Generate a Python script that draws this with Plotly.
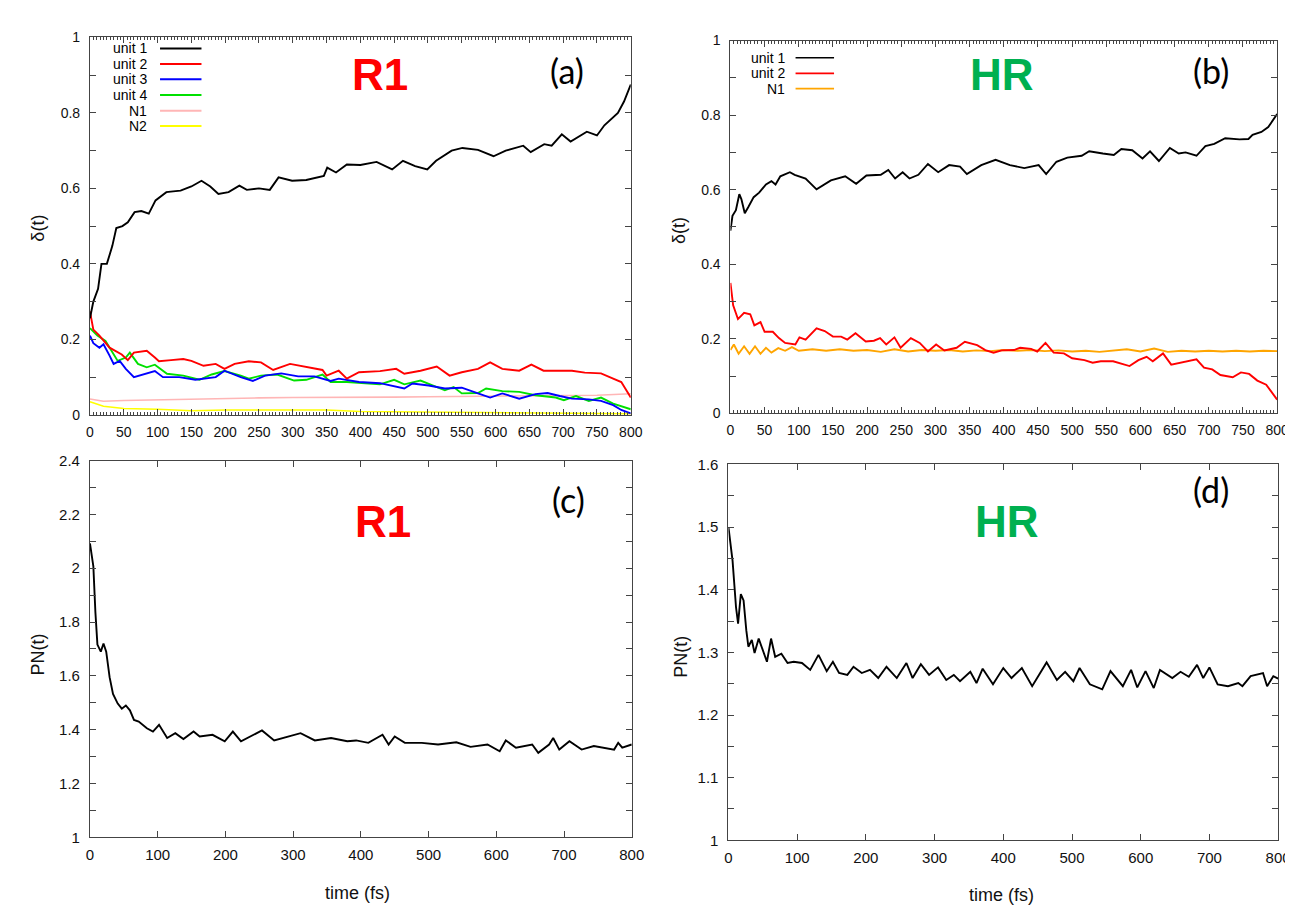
import plotly.graph_objects as go

W, H = 1293, 907

# ---------------- data ----------------
# panel (a)  R1 : delta(t)
t_a_u1 = [0,5,12,17,25,33,39,48,56,66,76,87,97,105,113,123,134,150,165,178,190,205,221,232,250,266,279,299,320,346,351,364,380,400,424,447,463,481,499,512,535,551,574,597,615,641,652,672,683,698,711,735,750,761,781,790,800]
v_a_u1 = [0.256,0.30,0.334,0.40,0.40,0.447,0.495,0.50,0.51,0.537,0.54,0.533,0.568,0.58,0.59,0.592,0.594,0.605,0.62,0.605,0.585,0.59,0.607,0.596,0.60,0.596,0.629,0.62,0.622,0.633,0.655,0.642,0.663,0.662,0.67,0.65,0.673,0.659,0.65,0.673,0.70,0.707,0.702,0.685,0.70,0.713,0.696,0.717,0.713,0.743,0.724,0.75,0.74,0.767,0.80,0.83,0.875]

t_a_u2 = [0,5,14,29,47,56,65,84,96,102,120,138,150,168,186,199,214,235,253,271,296,320,344,350,368,380,398,429,453,465,489,513,532,550,574,592,610,635,653,671,695,713,732,756,774,786,800]
v_a_u2 = [0.274,0.226,0.21,0.178,0.16,0.145,0.165,0.17,0.152,0.142,0.145,0.148,0.143,0.13,0.135,0.122,0.135,0.142,0.139,0.119,0.135,0.126,0.119,0.104,0.117,0.096,0.113,0.116,0.122,0.109,0.117,0.128,0.104,0.113,0.122,0.139,0.122,0.117,0.133,0.117,0.116,0.117,0.112,0.11,0.096,0.087,0.046]

t_a_u3 = [0,5,14,20,29,35,44,53,65,84,96,108,132,156,186,199,223,241,259,283,308,332,356,368,398,429,453,465,477,501,525,550,574,592,610,635,659,677,695,713,738,756,774,786,800]
v_a_u3 = [0.21,0.19,0.178,0.187,0.157,0.135,0.143,0.122,0.10,0.11,0.116,0.10,0.10,0.093,0.10,0.117,0.10,0.09,0.104,0.11,0.102,0.102,0.09,0.096,0.087,0.084,0.076,0.07,0.083,0.078,0.07,0.072,0.057,0.046,0.057,0.043,0.055,0.058,0.05,0.043,0.041,0.037,0.026,0.013,0.004]

t_a_u4 = [0,11,23,35,41,53,59,71,84,96,114,138,162,180,199,223,235,253,277,302,320,344,356,380,405,429,450,465,489,507,525,538,550,574,586,610,635,659,689,701,719,738,756,774,800]
v_a_u4 = [0.23,0.21,0.196,0.161,0.143,0.152,0.165,0.135,0.126,0.133,0.109,0.104,0.093,0.107,0.116,0.104,0.096,0.104,0.107,0.091,0.093,0.107,0.087,0.087,0.084,0.081,0.093,0.081,0.091,0.078,0.065,0.074,0.057,0.058,0.07,0.063,0.061,0.052,0.046,0.039,0.05,0.037,0.046,0.03,0.015]

t_a_n1 = [0,20,50,100,150,200,250,300,350,400,450,500,550,600,650,700,750,800]
v_a_n1 = [0.042,0.036,0.038,0.040,0.042,0.044,0.045,0.046,0.046,0.047,0.047,0.048,0.049,0.050,0.050,0.051,0.052,0.056]

t_a_n2 = [0,20,50,100,150,200,300,350,400,500,600,700,800]
v_a_n2 = [0.035,0.023,0.017,0.015,0.011,0.013,0.013,0.013,0.009,0.007,0.006,0.005,0.003]

# panel (b)  HR : delta(t)
t_b_u1 = [0,3,8,13,16,21,26,34,42,52,60,66,73,87,94,110,126,147,168,184,199,220,231,241,252,262,275,289,304,320,336,346,367,388,409,430,451,462,477,493,514,525,545,561,572,588,603,614,627,643,656,666,682,695,708,724,745,758,764,777,787,800]
v_b_u1 = [0.49,0.53,0.545,0.588,0.575,0.537,0.553,0.58,0.592,0.614,0.623,0.614,0.636,0.647,0.64,0.63,0.601,0.625,0.636,0.616,0.638,0.64,0.653,0.63,0.647,0.63,0.64,0.669,0.647,0.666,0.662,0.642,0.666,0.68,0.666,0.658,0.666,0.642,0.675,0.686,0.691,0.703,0.697,0.693,0.709,0.706,0.684,0.703,0.677,0.712,0.697,0.70,0.691,0.717,0.723,0.738,0.735,0.736,0.747,0.755,0.768,0.803]

t_b_u2 = [0,4,11,20,29,35,44,50,62,71,80,95,101,110,126,138,150,162,171,183,198,210,219,228,240,249,264,277,289,301,313,331,343,361,373,385,397,415,424,440,449,461,473,488,500,518,530,542,560,572,584,597,609,618,633,645,657,682,693,705,717,735,747,759,771,784,800]
v_b_u2 = [0.35,0.29,0.253,0.27,0.266,0.236,0.245,0.219,0.219,0.202,0.189,0.185,0.204,0.198,0.228,0.221,0.206,0.206,0.198,0.215,0.193,0.195,0.202,0.185,0.204,0.176,0.202,0.189,0.166,0.185,0.169,0.176,0.192,0.183,0.17,0.163,0.169,0.17,0.176,0.173,0.166,0.189,0.163,0.161,0.148,0.143,0.136,0.14,0.14,0.134,0.127,0.143,0.152,0.14,0.161,0.131,0.136,0.145,0.123,0.118,0.103,0.097,0.11,0.106,0.088,0.077,0.037]

t_b_n1 = [0,5,12,20,28,36,44,52,60,70,80,90,100,120,140,160,180,200,220,240,260,280,300,320,340,360,380,400,420,440,460,480,500,520,540,560,580,600,620,640,660,680,700,720,740,760,780,800]
v_b_n1 = [0.17,0.185,0.16,0.18,0.16,0.18,0.16,0.176,0.163,0.175,0.168,0.178,0.168,0.172,0.168,0.172,0.168,0.17,0.165,0.172,0.166,0.17,0.168,0.17,0.166,0.169,0.167,0.17,0.168,0.17,0.167,0.169,0.166,0.168,0.165,0.168,0.172,0.166,0.174,0.165,0.168,0.166,0.168,0.166,0.168,0.166,0.168,0.167]

# panel (c)  R1 : PN(t)
t_c = [0,5,8,11,16,20,24,29,34,41,47,53,59,65,72,84,93,102,114,126,138,153,162,181,199,211,223,242,254,272,296,311,332,356,380,393,411,432,441,450,465,490,514,541,562,587,605,614,629,653,662,678,684,693,708,726,744,756,774,780,786,800]
v_c = [2.092,2.007,1.837,1.716,1.69,1.72,1.69,1.595,1.533,1.497,1.478,1.49,1.472,1.436,1.43,1.405,1.393,1.418,1.369,1.387,1.365,1.393,1.375,1.381,1.357,1.393,1.357,1.381,1.397,1.36,1.378,1.387,1.36,1.369,1.357,1.36,1.351,1.381,1.345,1.375,1.351,1.351,1.345,1.353,1.336,1.345,1.32,1.36,1.333,1.345,1.314,1.345,1.369,1.326,1.357,1.326,1.339,1.333,1.326,1.351,1.333,1.345]

# panel (d)  HR : PN(t)
t_d = [0,3,6,11,14,18,22,26,29,34,38,44,50,56,62,68,77,86,95,107,119,131,143,152,161,173,182,194,206,218,230,245,259,268,280,292,305,317,328,337,352,361,370,385,400,412,427,442,463,478,490,502,511,526,544,556,574,586,595,607,619,628,646,658,670,682,691,700,712,727,742,748,760,778,784,793,800]
v_d = [1.5,1.477,1.446,1.372,1.346,1.393,1.383,1.335,1.309,1.32,1.299,1.322,1.304,1.285,1.322,1.293,1.298,1.283,1.285,1.283,1.272,1.296,1.27,1.285,1.267,1.264,1.277,1.267,1.272,1.259,1.277,1.259,1.283,1.259,1.281,1.264,1.276,1.256,1.264,1.254,1.269,1.251,1.274,1.249,1.275,1.259,1.275,1.246,1.284,1.256,1.269,1.254,1.275,1.249,1.241,1.27,1.246,1.272,1.244,1.27,1.243,1.272,1.259,1.269,1.261,1.28,1.259,1.276,1.249,1.246,1.251,1.246,1.262,1.267,1.246,1.262,1.258]

legend_a = ["unit 1", "unit 2", "unit 3", "unit 4", "N1", "N2"]
legend_b = ["unit 1", "unit 2", "N1"]
colors_a = ["#000000", "#ff0000", "#0000ff", "#00e000", "#ffb6b6", "#ffff00"]
colors_b = ["#000000", "#ff0000", "#ffa500"]

# ---------------- figure ----------------
def px(x):
    return x / W

def py(y):
    return 1 - y / H

fig = go.Figure()

series_a = [(t_a_u1, v_a_u1), (t_a_u2, v_a_u2), (t_a_u3, v_a_u3), (t_a_u4, v_a_u4), (t_a_n1, v_a_n1), (t_a_n2, v_a_n2)]
order_a = [5, 4, 3, 2, 1, 0]
for i in order_a:
    t, v = series_a[i]
    fig.add_trace(go.Scatter(x=t, y=v, mode="lines", name=legend_a[i], xaxis="x", yaxis="y",
                             line=dict(color=colors_a[i], width=1.9 if i < 4 else 1.6), showlegend=False))

series_b = [(t_b_u1, v_b_u1), (t_b_u2, v_b_u2), (t_b_n1, v_b_n1)]
for i in [2, 1, 0]:
    t, v = series_b[i]
    fig.add_trace(go.Scatter(x=t, y=v, mode="lines", name=legend_b[i], xaxis="x2", yaxis="y2",
                             line=dict(color=colors_b[i], width=1.9), showlegend=False))

fig.add_trace(go.Scatter(x=t_c, y=v_c, mode="lines", xaxis="x3", yaxis="y3",
                         line=dict(color="#000000", width=1.9), showlegend=False))
fig.add_trace(go.Scatter(x=t_d, y=v_d, mode="lines", xaxis="x4", yaxis="y4",
                         line=dict(color="#000000", width=1.9), showlegend=False))

font_reg = "Liberation Sans, Arial, sans-serif"
font_nar = "Liberation Sans Narrow, Arial Narrow, Liberation Sans, Arial, sans-serif"

def xax(dom, anchor, dtick, minor, font, size):
    d = dict(domain=dom, anchor=anchor, range=[0, 800], dtick=dtick, tick0=0,
             showline=True, linecolor="#444", linewidth=1, mirror="ticks",
             ticks="inside", ticklen=6, tickcolor="#444", showgrid=False, zeroline=False,
             tickfont=dict(family=font, size=size, color="#111"), ticklabelstandoff=4)
    if minor:
        d["minor"] = dict(ticks="inside", ticklen=3, dtick=minor, tickcolor="#444", showgrid=False)
    return d

def yax(dom, anchor, rng, dtick, minor, font, size):
    return dict(domain=dom, anchor=anchor, range=rng, dtick=dtick, tick0=rng[0],
                showline=True, linecolor="#444", linewidth=1, mirror="ticks",
                ticks="inside", ticklen=6, tickcolor="#444", showgrid=False, zeroline=False,
                tickfont=dict(family=font, size=size, color="#111"), ticklabelstandoff=6,
                minor=dict(ticks="inside", ticklen=6, dtick=minor, tickcolor="#444", showgrid=False))

fig.update_layout(
    width=W, height=H, margin=dict(l=0, r=0, t=0, b=0),
    paper_bgcolor="white", plot_bgcolor="white",
    xaxis=xax([px(79), px(627)], "y", 50, 5, font_reg, 14),
    yaxis=yax([py(405.5), py(20.7)], "x", [0, 1], 0.2, 0.1, font_reg, 14),
    xaxis2=xax([px(728), px(1282)], "y2", 50, 5, font_reg, 14),
    yaxis2=yax([py(404), py(24)], "x2", [0, 1], 0.2, 0.1, font_reg, 14),
    xaxis3=xax([px(79), px(628)], "y3", 100, None, font_nar, 15),
    yaxis3=yax([py(836), py(452)], "x3", [1, 2.4], 0.2, 0.1, font_nar, 15),
    xaxis4=xax([px(726), px(1283)], "y4", 100, None, font_nar, 15),
    yaxis4=yax([py(839), py(456)], "x4", [1, 1.6], 0.1, 0.05, font_nar, 15),
)

ann = []
shapes = []

def text(x, y, s, size, color="#000", family=font_reg, bold=False, angle=0, xanchor="center"):
    ann.append(dict(x=px(x), y=py(y), xref="paper", yref="paper", text=("<b>%s</b>" % s) if bold else s,
                    showarrow=False, textangle=angle, xanchor=xanchor, yanchor="middle",
                    font=dict(size=size, color=color, family=family)))

# big labels
text(373, 59, "R1", 44, "#ff0000", "Liberation Sans, Arial", True)
text(1003, 59, "HR", 44, "#00b050", "Liberation Sans, Arial", True)
text(376, 514, "R1", 44, "#ff0000", "Liberation Sans, Arial", True)
text(1008, 514, "HR", 44, "#00b050", "Liberation Sans, Arial", True)
lab_font = "Lato, Open Sans, sans-serif"
text(562, 55, "(a)", 34, "#000", lab_font)
text(1215, 55, "(b)", 34, "#000", lab_font)
text(564, 492, "(c)", 34, "#000", lab_font)
text(1215, 482, "(d)", 34, "#000", lab_font)

# axis titles
text(26, 215, "δ(t)", 18, "#111", font_reg, angle=-90)
text(676, 218, "δ(t)", 18, "#111", font_reg, angle=-90)
text(26, 650, "PN(t)", 18, "#111", font_reg, angle=-90)
text(678, 652, "PN(t)", 18, "#111", font_reg, angle=-90)
text(350, 893, "time (fs)", 18, "#111", font_nar)
text(1003, 895, "time (fs)", 18, "#111", font_nar)

# legends (text right-aligned, sample line to the right)
rows_a = [32, 48, 63.5, 79.5, 95.5, 111]
for name, col, yy in zip(legend_a, colors_a, rows_a):
    text(139, yy, name, 14, "#000", font_reg, xanchor="right")
    shapes.append(dict(type="line", xref="paper", yref="paper", x0=px(150), x1=px(192), y0=py(yy), y1=py(yy),
                       line=dict(color=col, width=2)))
rows_b = [41.5, 57.5, 73]
for name, col, yy in zip(legend_b, colors_b, rows_b):
    text(785, yy, name, 14, "#000", font_reg, xanchor="right")
    shapes.append(dict(type="line", xref="paper", yref="paper", x0=px(794), x1=px(833), y0=py(yy), y1=py(yy),
                       line=dict(color=col, width=1.6)))

fig.update_layout(annotations=ann, shapes=shapes)
fig.write_html("out.html")
